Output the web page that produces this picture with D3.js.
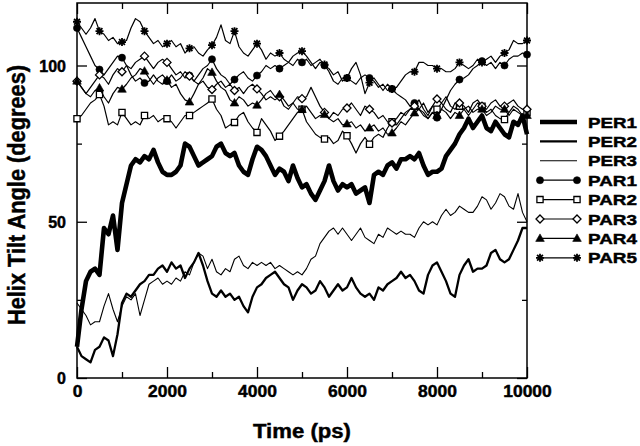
<!DOCTYPE html>
<html>
<head>
<meta charset="utf-8">
<script src="https://cdn.jsdelivr.net/npm/d3@7"></script>
<style>
  body { margin: 0; background: #fff; }
  svg { display: block; }
</style>
</head>
<body>
<div id="chart"></div>
<script>
// Helix tilt angle vs time, 8 runs (PER1-3, PAR1-5)

const TIME_STEP = 100; // ps between samples

const per1 = [10,22,31,34,35,33,48,46,52,41,
  56,62,68,70,69,71,70,73,69,66,
  65,65,66,68,75,74,71,68,69,70,
  71,74,75,72,71,72,68,66,65,70,
  74,73,71,68,65,67,66,63,68,64,
  61,62,59,57,60,63,68,63,60,62,
  61,62,59,60,61,56,65,66,65,68,
  69,67,70,70,71,70,72,68,65,66,
  66,67,71,73,75,78,80,83,80,82,
  84,80,79,82,80,78,77,82,81,84,78];

const per2 = [10,7,6,5,9,10,13,12,7,14,
  24,27,26,28,30,31,33,33,35,36,
  34,37,35,36,32,35,37,40,36,31,
  27,26,28,26,27,25,26,23,21,26,
  29,30,32,33,34,32,30,29,25,28,
  30,29,27,28,31,29,26,28,30,28,
  29,32,29,27,26,27,25,29,28,30,
  31,32,34,32,33,31,28,27,33,36,
  37,34,31,27,26,33,36,38,34,35,
  35,36,40,41,38,37,38,41,44,48,48];

const per3 = [24,22,20,17,18,18,23,27,22,18,
  23,26,25,27,20,25,30,31,32,30,
  31,30,32,31,34,33,37,40,39,35,
  38,34,33,35,34,38,39,36,35,37,
  36,37,36,37,35,36,35,34,33,34,
  33,35,38,39,43,45,47,48,46,48,
  46,44,46,48,45,44,43,46,45,48,
  47,46,47,46,46,45,48,50,49,50,
  49,52,54,52,53,55,54,53,53,55,
  58,57,54,56,59,58,55,54,59,53,50];

const par1 = [112,109,106,103,100,98.7,97,99,101,103,
  102.5,100,97,95,96,94.4,95,97,95,94,
  95,97,95,96,98,96.8,95,97,99,100,
  102,99,97,96,94,95.5,97,98,96,95,
  96.8,98,100,99,100,99,100,101,100,102,
  101,102,100,101,102,100,99,97,98,95,
  96,95,94,96,97,96,95,93,94,92,
  92.5,91,90,89,87,88,86,84,83,85,
  83.3,86,89,92,94,95.5,96,97,99,100,
  101.4,100,101,99,101,100,102,103,103,104,103.5];

const par2 = [83,84,86,88,89,90.7,87,81,82,81,
  85,83,81,82,81,84,83,84,82,83,
  83,82,80,82,84,84,85,86,87,88,
  89.3,86,84,80,81,81.8,84,85,82,80,
  78.6,83,81,79,76,77.4,79,81,83,85,
  86,82,80,78,77,76.5,77,75,76,79,
  77.5,75,72,75,77,74.8,77,78,77,80,
  82,81,83,85,86,87,86,88,85,87,
  86,88,86,85,88,87,86,84,86,88,
  87,85,86,84,83,82.7,85,87,86,84,85];

const par3 = [95,93,91,93,95,97,96,94,97,99,
  98,100,99,101,102,103,101,99,101,102,
  101,99,97,98,96,96.6,95,94,95,93,
  92.3,94,95,93,94,92,93,91,93,94,
  92.5,91,89,90,89,90,87,86,88,90,
  89.4,90,93,90,87,85,83,85,84,86,
  86.4,88,86,84,87,86,85,83,84,82,
  81.6,83,85,84,86,87,89,86,84,87,
  89.3,88,90,87,86,88,87,85,88,89,
  87,86,88,89,87,87,88,89,87,86,86];

const par4 = [95,93,91,90,92,92.8,90,88,91,93,
  92.4,94,96,97,99,98.2,96,94,96,97,
  95.3,93,94,91,89,88.3,91,94,96,99,
  97.8,95,93,92,89,88,90,89,87,88,
  87.3,89,91,92,90,90.7,89,87,88,86,
  85.9,87,85,83,84,84.3,83,82,83,81,
  81.3,82,80,81,79,80,81,79,80,78,
  78.4,80,82,81,83,84.8,86,85,83,85,
  84,86,85,83,85,84,86,87,85,86,
  86,84,85,87,86,86,84,86,85,84,84];

const par5 = [114,112,110,112,115,111,110,108,109,107,
  107.5,108,112,115,114,111,109,107,108,106,
  107,108,106,107,104,105.5,106,104,103,105,
  106.5,109,113,108,107,111,106,104,103,105,
  107,105,102,104,103,104,102,101,103,104,
  104.6,103,101,99,101,100.3,98,95,94,96,
  96,99,101,97,91,94.5,96,94,92,94,
  92.5,93,95,97,98,98,101,101,100,100,
  99,99,98,98,99,101,100,99,100,102,
  101,102,103,101,103,104,105,108,107,107,108];

const xMajorTicks = [0, 2000, 4000, 6000, 8000, 10000];
const xMinorTicks = [1000, 3000, 5000, 7000, 9000];
const yMajorTicks = [0, 50, 100];
const yMinorTicks = [25, 75];

const seriesNames = ["PER1", "PER2", "PER3", "PAR1", "PAR2", "PAR3", "PAR4", "PAR5"];
const seriesValues = [per1, per2, per3, par1, par2, par3, par4, par5];

const FONT = "'Liberation Sans', Arial, Helvetica, sans-serif";
const width = 640, height = 446;
const plot = { left: 77, right: 527, top: 3, bottom: 378 };

// style of each run: line width + marker kind
const styles = {
  PER1: { w: 4.6, marker: null },
  PER2: { w: 2.3, marker: null },
  PER3: { w: 1.1, marker: null },
  PAR1: { w: 1.2, marker: "circle" },
  PAR2: { w: 1.2, marker: "square" },
  PAR3: { w: 1.2, marker: "diamond" },
  PAR4: { w: 1.2, marker: "triangle" },
  PAR5: { w: 1.2, marker: "star" }
};

const svg = d3.select("#chart").append("svg")
  .attr("width", width).attr("height", height)
  .style("font-family", FONT);

const x = d3.scaleLinear().domain([0, 10000]).range([plot.left, plot.right]);
const y = d3.scaleLinear().domain([0, 120]).range([plot.bottom, plot.top]);

function markerPath(kind) {
  if (kind === "circle") return d3.symbol(d3.symbolCircle, 40)();
  if (kind === "square") return "M-3.1,-3.1H3.1V3.1H-3.1Z";
  if (kind === "diamond") return "M0,-4L4,0L0,4L-4,0Z";
  if (kind === "triangle") return "M0,-4.5L4.3,3L-4.3,3Z";
  return "M-4,0H4M0,-4V4M-2.9,-2.9L2.9,2.9M-2.9,2.9L2.9,-2.9";
}

function drawMarker(g, kind, cx, cy) {
  const p = g.append("path")
    .attr("d", markerPath(kind))
    .attr("transform", `translate(${cx},${cy})`)
    .attr("stroke", "#000");
  if (kind === "circle" || kind === "triangle") {
    p.attr("fill", "#000").attr("stroke-width", 0.6);
  } else if (kind === "star") {
    p.attr("fill", "none").attr("stroke-width", 1.8);
  } else {
    p.attr("fill", "#fff").attr("stroke-width", 1.3);
  }
}

// axes: ticks pointing inward on all four sides
function axis(gen, pos, values, size, labels) {
  const g = svg.append("g")
    .attr("transform", pos)
    .call(gen.tickValues(values).tickSize(-size).tickPadding(8)
      .tickFormat(labels ? d3.format("d") : () => ""));
  g.select(".domain").remove();
  g.selectAll(".tick line").attr("stroke", "#000").attr("stroke-width", 1.3);
  return g;
}

const xb = axis(d3.axisBottom(x), `translate(0,${plot.bottom})`, xMajorTicks, 11, true);
axis(d3.axisBottom(x), `translate(0,${plot.bottom})`, xMinorTicks, 6, false);
axis(d3.axisTop(x), `translate(0,${plot.top})`, xMajorTicks, 11, false);
axis(d3.axisTop(x), `translate(0,${plot.top})`, xMinorTicks, 6, false);
const yl = axis(d3.axisLeft(y), `translate(${plot.left},0)`, yMajorTicks, 10, true);
axis(d3.axisLeft(y), `translate(${plot.left},0)`, yMinorTicks, 5, false);
axis(d3.axisRight(y), `translate(${plot.right},0)`, yMajorTicks, 10, false);
axis(d3.axisRight(y), `translate(${plot.right},0)`, yMinorTicks, 5, false);

// heavier text, like the original's black sans
function heavy(sel) {
  sel.style("font-weight", "bold").attr("fill", "#000")
    .attr("stroke", "#000").attr("stroke-width", 0.45);
}

xb.selectAll(".tick text")
  .attr("y", 19).attr("dy", null)
  .style("font-size", "16px")
  .attr("textLength", d => String(d).length * 9.7)
  .attr("lengthAdjust", "spacingAndGlyphs")
  .call(heavy);

yl.selectAll(".tick text")
  .attr("x", -11).attr("dy", "0.36em")
  .style("font-size", "16px")
  .call(heavy);

// frame
svg.append("rect")
  .attr("x", plot.left).attr("y", plot.top)
  .attr("width", plot.right - plot.left).attr("height", plot.bottom - plot.top)
  .attr("fill", "none").attr("stroke", "#000").attr("stroke-width", 1.5);

// series
const line = d3.line()
  .x((d, i) => x(i * TIME_STEP))
  .y(d => y(d));

const order = [3, 4, 5, 6, 7, 2, 1, 0];
order.forEach(k => {
  const name = seriesNames[k];
  const vals = seriesValues[k];
  const st = styles[name];
  const g = svg.append("g");
  g.append("path")
    .attr("d", line(vals))
    .attr("fill", "none").attr("stroke", "#000")
    .attr("stroke-width", st.w)
    .attr("stroke-linejoin", "round");
  if (st.marker) {
    vals.forEach((v, i) => {
      if (i % 5 === 0) drawMarker(g, st.marker, x(i * TIME_STEP), y(v));
    });
  }
});

// legend
const legend = svg.append("g");
seriesNames.forEach((name, i) => {
  const cy = 122 + i * 19.4;
  const st = styles[name];
  legend.append("line")
    .attr("x1", 540).attr("x2", 577).attr("y1", cy).attr("y2", cy)
    .attr("stroke", "#000").attr("stroke-width", st.w);
  if (st.marker) {
    drawMarker(legend, st.marker, 540, cy);
    drawMarker(legend, st.marker, 577, cy);
  }
  legend.append("text")
    .attr("x", 588).attr("y", cy + 5.5)
    .attr("textLength", 49).attr("lengthAdjust", "spacingAndGlyphs")
    .style("font-size", "15.5px")
    .text(name)
    .call(heavy);
});

// axis titles
svg.append("text")
  .attr("x", (plot.left + plot.right) / 2).attr("y", 438)
  .attr("text-anchor", "middle")
  .attr("textLength", 98).attr("lengthAdjust", "spacingAndGlyphs")
  .style("font-size", "20px")
  .text("Time (ps)")
  .call(heavy);

svg.append("text")
  .attr("transform", "translate(25,195) rotate(-90)")
  .attr("text-anchor", "middle")
  .attr("textLength", 260).attr("lengthAdjust", "spacingAndGlyphs")
  .style("font-size", "23px")
  .text("Helix Tilt Angle (degrees)")
  .call(heavy);
</script>
</body>
</html>
